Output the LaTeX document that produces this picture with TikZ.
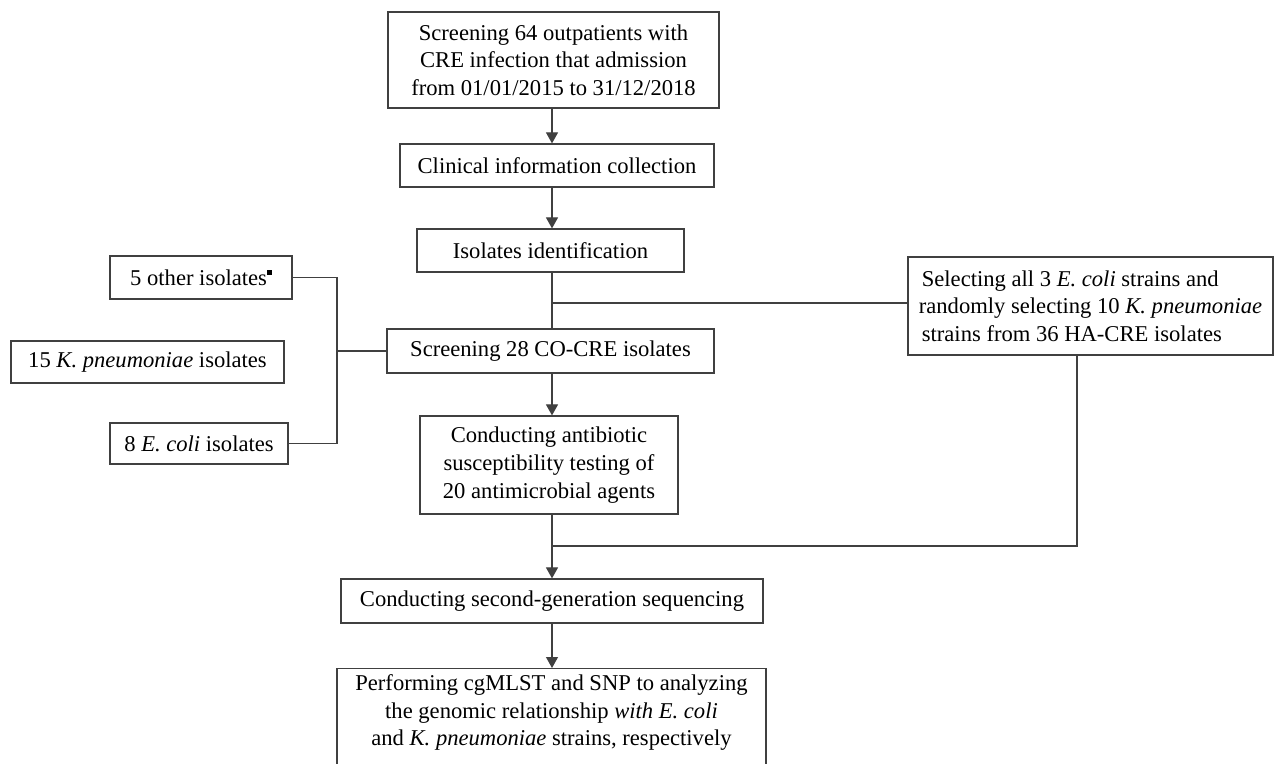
\documentclass[tikz,border=0pt]{standalone}
\usepackage{fontspec}
\setmainfont{Liberation Serif}
\usetikzlibrary{arrows.meta}
\newcommand{\fsz}{\fontsize{11.3}{13.8}\selectfont}
\tikzset{
  box/.style={draw=black!75, line width=0.6pt, inner sep=0pt, align=center, font=\fsz, text=black},
  conn/.style={draw=black!75, line width=0.6pt},
  arr/.style={conn, -{Triangle[length=5.5pt,width=6pt]}},
}
\begin{document}
\begin{tikzpicture}[x=0.5pt,y=-0.5pt]
\useasboundingbox (0,0) rectangle (1275,764);
\clip (0,0) rectangle (1275,764);
\fill[white] (0,0) rectangle (1275,764);

\coordinate (ax) at (552,0);
\coordinate (rr) at (1077,0);

\node[box, minimum width=165.5pt, minimum height=48pt] (b1) at (553.5,60)
  {Screening 64 outpatients with\\CRE infection that admission\\from 01/01/2015 to 31/12/2018};
\node[box, minimum width=157pt, minimum height=21.5pt] (b2) at (557,165.5)
  {Clinical information collection};
\node[box, minimum width=133.5pt, minimum height=21.5pt] (b3) at (550.5,250.5)
  {Isolates identification};
\node[box, minimum width=163.5pt, minimum height=22pt] (b4) at (550.5,351)
  {Screening 28 CO-CRE isolates};
\node[box, minimum width=129pt, minimum height=49pt] (b5) at (549,465)
  {Conducting antibiotic\\susceptibility testing of\\20 antimicrobial agents};
\node[box, minimum width=211pt, minimum height=22pt] (b6) at (552,601)
  {Conducting second-generation sequencing};
\node[box, anchor=north, minimum width=214.5pt, inner ysep=3pt] (b7) at (551.5,668)
  {\begin{minipage}[t][56pt][t]{212pt}\centering\fsz
   Performing cgMLST and SNP to analyzing\\
   the genomic relationship \textit{with E.~coli}\\
   and \textit{K.~pneumoniae} strains, respectively\end{minipage}};

\node[box, minimum width=91pt, minimum height=21.5pt] (L1) at (201,277.5)
  {5 other isolates\raisebox{5.2pt}{\rule{2.4pt}{2.4pt}}};
\node[box, minimum width=136.5pt, minimum height=21pt] (L2) at (147.5,362)
  {15 \textit{K.~pneumoniae} isolates};
\node[box, minimum width=89pt, minimum height=20.5pt] (L3) at (199,443.5)
  {8 \textit{E.~coli} isolates};

\node[box, align=left, minimum width=182.5pt, minimum height=49pt] (R) at (1090.5,306)
  {\hspace{1.5pt}Selecting all 3 \textit{E.~coli} strains and\\randomly selecting 10 \textit{K.~pneumoniae}\\\hspace{1.5pt}strains from 36 HA-CRE isolates};

% main column
\draw[arr] (b1.south -| ax) -- (b2.north -| ax);
\draw[arr] (b2.south -| ax) -- (b3.north -| ax);
\draw[conn] (b3.south -| ax) -- (b4.north -| ax);
\coordinate (j1) at (552,303);
\draw[conn] (j1) -- (j1 -| R.west);
\draw[arr] (b4.south -| ax) -- (b5.north -| ax);
\draw[arr] (b5.south -| ax) -- (b6.north -| ax);
\coordinate (j3) at (552,546);
\draw[conn] (j3) -| (R.south -| rr);
\draw[arr] (b6.south -| ax) -- (b7.north -| ax);

% bracket on the left
\coordinate (bx) at (337,351);
\draw[conn] (L1.east) -| (bx) |- (L3.east);
\draw[conn] (bx) -- (bx -| b4.west);
\end{tikzpicture}
\end{document}
